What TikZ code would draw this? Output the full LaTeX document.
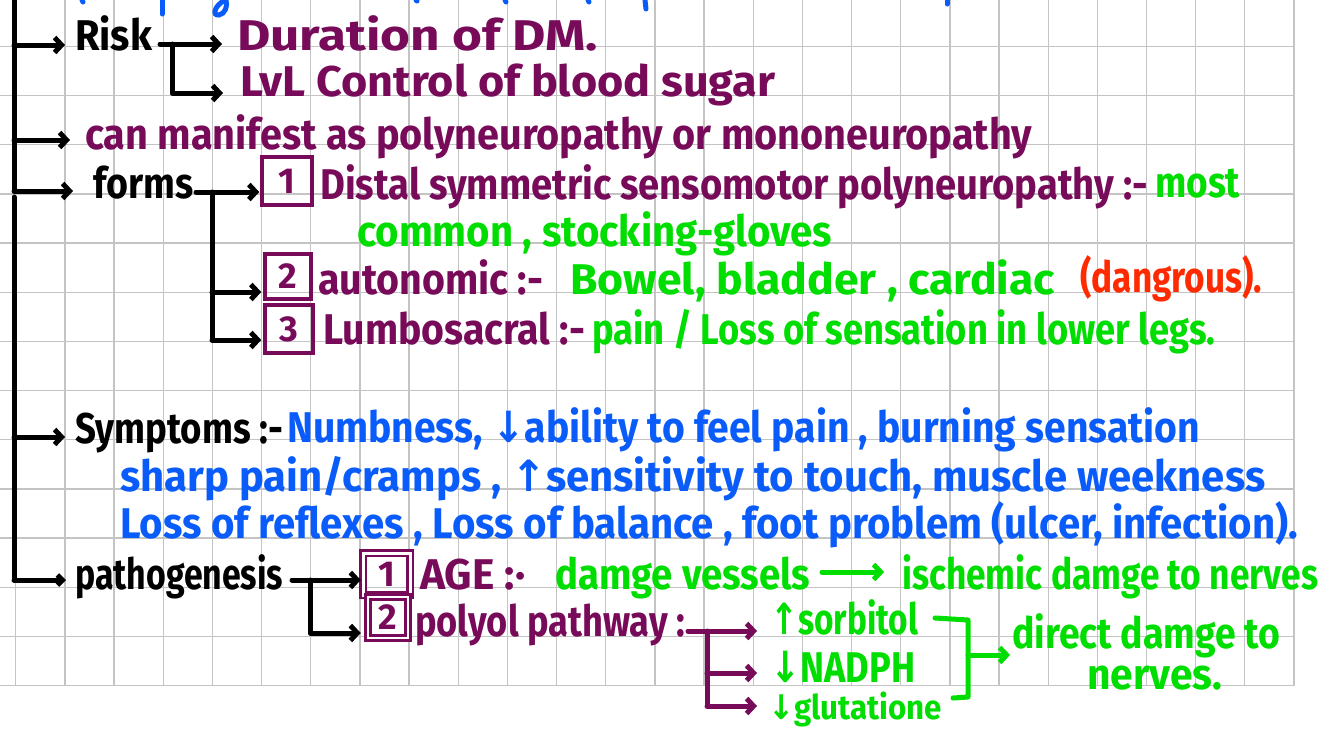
\documentclass[tikz,border=0pt]{standalone}
\usepackage{fontspec}
\setmainfont{Fira Sans}
\newfontfamily\sym{DejaVu Sans}
\usetikzlibrary{arrows.meta,calc}
\definecolor{purp}{HTML}{780A5A}
\definecolor{grn}{HTML}{00DD00}
\definecolor{blu}{HTML}{0A5CFA}
\definecolor{rd}{HTML}{FF2A00}
\definecolor{gridc}{HTML}{C4C4C4}
\newcommand\hw[2]{\resizebox{#1pt}{\height}{#2}}
\begin{document}
\begin{tikzpicture}[x=1pt,y=-1pt,
  txt/.style={anchor=base west, inner sep=0pt, font=\fontsize{43}{46}\selectfont\bfseries},
  conn/.style={line width=5pt, line cap=round, line join=round},
  arr/.style={conn, -{Straight Barb[length=7pt,width=15pt]}},
  numbox/.style={draw=purp, line width=3.5pt, text=purp, inner sep=0pt, font=\fontsize{36}{36}\selectfont\bfseries},
  gridline/.style={draw=gridc, line width=1.3pt}
]
\useasboundingbox (0,0) rectangle (1339,729);
\fill[white] (0,0) rectangle (1339,729);
% grid
\foreach \i in {0,...,26} \draw[gridline] ({15.8+49.16*\i},0) -- ({15.8+49.16*\i},685.6);
\foreach \j in {0,...,13} \draw[gridline] (0,{46.5+49.16*\j}) -- (1294,{46.5+49.16*\j});

% cut-off blue strokes at the top
\begin{scope}[blu, line width=5pt, line cap=round]
\draw (82,0) -- (83,2);
\draw (162,0) -- (162,14);
\draw (225,0) .. controls (214,6) and (212,16) .. (219,15) .. controls (225,14) and (228,6) .. (226,0);
\draw (416,0) -- (417,1);
\draw (505,0) -- (506,2);
\draw (588,0) -- (589,2);
\draw (645,0) -- (646,9);
\draw (947,0) -- (947,4);
\end{scope}

% texts
\node[txt] (risk) at (75,50) {\hw{77}{Risk}};
\node[txt,text=purp] (dur) at (237,50) {\hw{361}{Duration of DM.}};
\node[txt,text=purp] (lvl) at (240,96) {\hw{535}{LvL Control of blood sugar}};
\node[txt,text=purp] (man) at (85,149) {\hw{947}{can manifest as polyneuropathy or mononeuropathy}};
\node[txt] (forms) at (93,198) {\hw{100}{forms}};
\node[txt,text=purp] (dist) at (320,199) {\hw{828}{Distal symmetric sensomotor polyneuropathy :-}};
\node[txt,text=grn] (most) at (1155,197) {\hw{85}{most}};
\node[txt,text=grn] (common) at (357,246) {\hw{475}{common , stocking-gloves}};
\node[txt,text=purp] (auto) at (318,294) {\hw{225}{autonomic :-}};
\node[txt,text=grn] (bowel) at (570,294) {\hw{485}{Bowel, bladder , cardiac}};
\node[txt,text=rd] (dang) at (1080,292) {\hw{182}{(dangrous).}};
\node[txt,text=purp] (lumbo) at (323,344) {\hw{262}{Lumbosacral :-}};
\node[txt,text=grn] (pain) at (592,344) {\hw{623}{pain / Loss of sensation in lower legs.}};
\node[txt] (symp) at (75,443) {\hw{208}{Symptoms :-}};
\node[txt,text=blu] (s1) at (287,442) {\hw{913}{Numbness, {\sym↓}ability to feel pain , burning sensation}};
\node[txt,text=blu] (s2) at (120,491) {\hw{1145}{sharp pain/cramps , {\sym↑}sensitivity to touch, muscle weekness}};
\node[txt,text=blu] (s3) at (120,538) {\hw{1178}{Loss of reflexes , Loss of balance , foot problem (ulcer, infection).}};
\node[txt] (path) at (75,589) {\hw{208}{pathogenesis}};
\node[txt,text=purp] (age) at (420,589) {\hw{105}{AGE :·}};
\node[txt,text=grn] (dv) at (555,589) {\hw{255}{damge vessels}};
\node[txt,text=grn] (isch) at (902,589) {\hw{416}{ischemic damge to nerves}};
\node[txt,text=purp] (poly) at (415,636) {\hw{270}{polyol pathway :}};
\node[txt,text=grn] (sorb) at (770,634) {\hw{148}{{\sym↑}sorbitol}};
\node[txt,text=grn] (nadph) at (770,682) {\hw{145}{{\sym↓}NADPH}};
\node[txt,text=grn,font=\fontsize{34}{36}\selectfont\bfseries] (glut) at (768,719) {\hw{174}{{\sym↓}glutatione}};
\node[txt,text=grn] (direct) at (1012,648) {\hw{268}{direct damge to}};
\node[txt,text=grn] (nerves) at (1087,689) {\hw{135}{nerves.}};

% number boxes
\node[numbox, minimum width=50pt, minimum height=48pt] (b1) at (287,181) {1};
\node[numbox, minimum width=46pt, minimum height=45pt] (b2) at (288,276.5) {2};
\node[numbox, minimum width=48pt, minimum height=48pt] (b3) at (289,329) {3};
\node[numbox, minimum width=47pt, minimum height=42pt, double=white, double distance=3pt, line width=2.5pt] (p1) at (386.5,574) {1};
\node[numbox, minimum width=40pt, minimum height=41pt, double=white, double distance=2.5pt, line width=2.5pt] (p2) at (388,617.5) {2};

% main trunk
\coordinate (top) at (14,-5);
\coordinate (jr) at (14,45);
\coordinate (jm) at (14,140);
\coordinate (jf) at (14,191);
\coordinate (t2) at (14,197);
\coordinate (js) at (14,437);
\coordinate (jp) at (14,580);
\draw[conn] (top) -- (jf);
\draw[conn] (t2) -- (jp);
\draw[arr, shorten >=10pt] (jr) -- (jr -| risk.west);
\draw[arr, shorten >=15pt] (jm) -- (jm -| man.west);
\draw[arr, shorten >=20pt] (jf) -- (jf -| forms.west);
\draw[arr, shorten >=10pt] (js) -- (js -| symp.west);
\draw[conn, -{Straight Barb[length=5pt,width=10pt]}, shorten >=9pt] (jp) -- (jp -| path.west);

% risk branch
\coordinate (rs) at (160,44);
\coordinate (rv) at (172,44);
\coordinate (rl) at (172,93);
\draw[arr, shorten >=15pt] (rs) -- (rs -| dur.west);
\draw[arr, shorten >=17pt] (rv) -- (rl) -- (rl -| lvl.west);

% forms branch
\coordinate (fs) at (196,192);
\coordinate (fv) at (212,192);
\coordinate (f2) at (212,292);
\coordinate (f3) at (212,340);
\draw[arr, shorten >=1pt] (fs) -- (fs -| b1.west);
\draw[conn] (fv) -- (f3);
\draw[arr, shorten >=2pt] (f2) -- (f2 -| b2.west);
\draw[arr, shorten >=2pt] (f3) -- (f3 -| b3.west);

% pathogenesis branch
\coordinate (ps) at (292,580);
\coordinate (pv) at (310,580);
\coordinate (p2c) at (310,633);
\draw[arr, shorten >=1pt] (ps) -- (ps -| p1.west);
\draw[arr, shorten >=6pt] (pv) -- (p2c) -- (p2c -| p2.west);

% AGE arrow
\coordinate (ga) at (822,572);
\draw[arr, grn, shorten >=18pt] (ga) -- (ga -| isch.west);

% polyol branch
\coordinate (qs) at (688,631);
\coordinate (qv) at (707,631);
\coordinate (q2) at (707,673);
\coordinate (q3) at (707,706);
\draw[arr, purp, shorten >=13pt] (qs) -- (qs -| sorb.west);
\draw[conn, purp] (qv) -- (q3);
\draw[arr, purp, shorten >=13pt] (q2) -- (q2 -| nadph.west);
\draw[arr, purp, shorten >=11pt] (q3) -- (q3 -| glut.west);

% green bracket
\coordinate (g1) at (935,618);
\coordinate (g2) at (968,620);
\coordinate (g3) at (968,697);
\coordinate (g4) at (953,698);
\coordinate (gb) at (968,655);
\draw[conn, grn] (g1) -- (g2) -- (g3) -- (g4);
\draw[arr, grn, shorten >=2pt] (gb) -- (gb -| direct.west);
\end{tikzpicture}
\end{document}
